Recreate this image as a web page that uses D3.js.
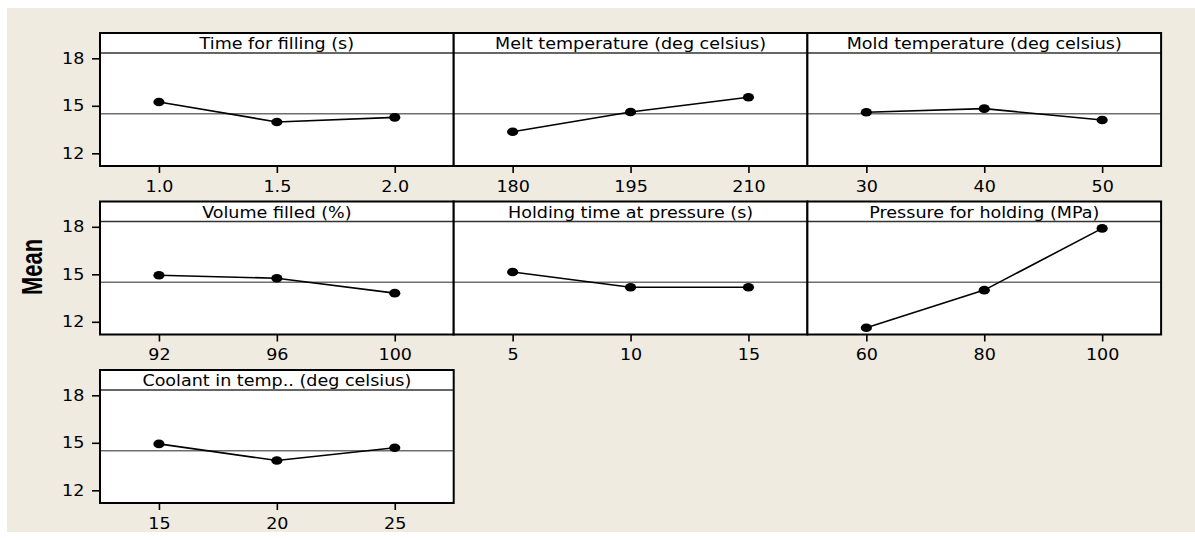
<!DOCTYPE html>
<html>
<head>
<meta charset="utf-8">
<script src="https://cdn.jsdelivr.net/npm/d3@7"></script>
<style>
  body { margin: 0; background: #fff; }
  text { font-family: "DejaVu Sans", Verdana, sans-serif; fill: #000; }
</style>
</head>
<body>
<div id="chart"></div>
<script>
// Main effects plot for means
const factors = [
  'Time for filling (s)',
  'Melt temperature (deg celsius)',
  'Mold temperature (deg celsius)',
  'Volume filled (%)',
  'Holding time at pressure (s)',
  'Pressure for holding (MPa)',
  'Coolant in temp.. (deg celsius)'
];
const levels = [
  ['1.0', '1.5', '2.0'],
  ['180', '195', '210'],
  ['30', '40', '50'],
  ['92', '96', '100'],
  ['5', '10', '15'],
  ['60', '80', '100'],
  ['15', '20', '25']
];
const means = [
  [15.24, 13.98, 14.27],
  [13.36, 14.61, 15.54],
  [14.59, 14.82, 14.10],
  [14.94, 14.75, 13.81],
  [15.15, 14.18, 14.18],
  [11.62, 14.00, 17.90],
  [14.93, 13.88, 14.69]
];
const grandMean = 14.5;
const yTicks = [12, 15, 18];

const config = {
  width: 1195, height: 540,
  left: 100, top: 33,
  colStep: 353.7, rowStep: 168.5,
  panelW: 353.7, panelH: 133,
  stripH: 20,
  sx: 1.17   // the source picture is stretched horizontally
};

const svg = d3.select('#chart').append('svg')
  .attr('width', config.width)
  .attr('height', config.height);

svg.append('rect')
  .attr('x', 7).attr('y', 8)
  .attr('width', config.width - 7).attr('height', 524)
  .attr('fill', '#efebe1');

// shared y scale (panel-local coords)
const y = d3.scaleLinear().domain([12, 18]).range([120.3, 25.3]);

factors.forEach((name, i) => {
  const col = i % 3, row = Math.floor(i / 3);
  const g = svg.append('g')
    .attr('transform', `translate(${config.left + col * config.colStep},${config.top + row * config.rowStep})`);

  const x = d3.scalePoint().domain(levels[i]).range([0, config.panelW]).padding(0.5);

  g.append('rect')
    .attr('width', config.panelW).attr('height', config.panelH)
    .attr('fill', '#fff');

  // grand mean reference line
  g.append('line')
    .attr('x1', 0).attr('x2', config.panelW)
    .attr('y1', y(grandMean)).attr('y2', y(grandMean))
    .attr('stroke', '#6e6e6e').attr('stroke-width', 1.4);

  const pts = levels[i].map((lv, k) => ({lv, v: means[i][k]}));

  g.append('path')
    .datum(pts)
    .attr('fill', 'none')
    .attr('stroke', '#000')
    .attr('stroke-width', 1.6)
    .attr('d', d3.line().x(d => x(d.lv)).y(d => y(d.v)));

  g.selectAll('.pt')
    .data(pts)
    .join('ellipse')
    .attr('class', 'pt')
    .attr('cx', d => x(d.lv)).attr('cy', d => y(d.v))
    .attr('rx', 5.6).attr('ry', 4.3)
    .attr('fill', '#000');

  // strip with factor name
  g.append('rect')
    .attr('width', config.panelW).attr('height', config.stripH)
    .attr('fill', '#fff');
  g.append('line')
    .attr('x1', 0).attr('x2', config.panelW)
    .attr('y1', config.stripH).attr('y2', config.stripH)
    .attr('stroke', '#333').attr('stroke-width', 1.6);
  g.append('text')
    .attr('transform', `translate(${config.panelW / 2},${config.stripH - 4}) scale(${config.sx},1)`)
    .attr('text-anchor', 'middle')
    .style('font-size', '15px')
    .text(name);

  g.append('rect')
    .attr('width', config.panelW).attr('height', config.panelH)
    .attr('fill', 'none')
    .attr('stroke', '#000').attr('stroke-width', 2);

  // x axis
  const xAxis = g.append('g')
    .attr('transform', `translate(0,${config.panelH})`)
    .call(d3.axisBottom(x).tickSize(7).tickPadding(8));
  xAxis.select('.domain').remove();
  xAxis.selectAll('line').attr('stroke', '#000').attr('stroke-width', 1.6);
  xAxis.selectAll('text')
    .attr('transform', `scale(${config.sx},1)`)
    .style('font-size', '15px')
    .style('font-family', '"DejaVu Sans", Verdana, sans-serif');

  // y axis on first column only
  if (col === 0) {
    const yAxis = g.append('g')
      .call(d3.axisLeft(y).tickValues(yTicks).tickFormat(d3.format('d')).tickSize(8));
    yAxis.select('.domain').remove();
    yAxis.selectAll('line').attr('stroke', '#000').attr('stroke-width', 1.6);
    yAxis.selectAll('text')
      .attr('x', -13.4)
      .attr('transform', `scale(${config.sx},1)`)
      .style('font-size', '15px')
      .style('font-family', '"DejaVu Sans", Verdana, sans-serif');
  }
});

svg.append('text')
  .attr('transform', 'translate(32,267) rotate(-90) scale(1,1.33)')
  .attr('text-anchor', 'middle')
  .attr('dy', '0.35em')
  .style('font-family', '"Liberation Sans", Arial, sans-serif')
  .style('font-weight', 'bold')
  .style('font-size', '22px')
  .text('Mean');
</script>
</body>
</html>
